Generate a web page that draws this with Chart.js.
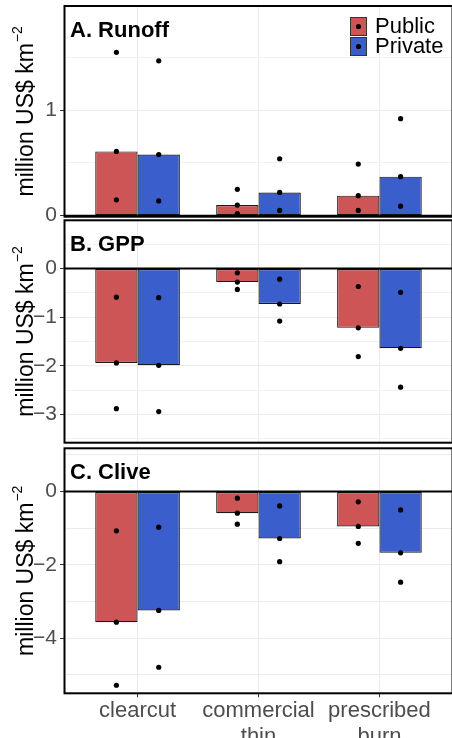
<!DOCTYPE html>
<html>
<head>
<meta charset="utf-8">
<script src="https://cdn.jsdelivr.net/npm/chart.js@4"></script>
<style>
  html, body { margin: 0; padding: 0; background: #fff; overflow: hidden; }
  #wrap { position: relative; width: 452px; height: 738px; overflow: hidden; }
  canvas { position: absolute; left: 0; }
</style>
</head>
<body>
<div id="wrap">
  <canvas id="runoffChart" width="456" height="240" style="top:0px"></canvas>
  <canvas id="gppChart" width="456" height="260" style="top:200px"></canvas>
  <canvas id="cliveChart" width="456" height="308" style="top:430px"></canvas>
</div>
<script>
const categories = ['clearcut', ['commercial', 'thin'], ['prescribed', 'burn']];
const groups = ['Public', 'Private'];
const groupColors = ['#CD5555', '#3A5FCD'];

// medians (bars) and the three individual values (dots) per category
const runoffPublic = [0.61, 0.10, 0.19];
const runoffPrivate = [0.58, 0.22, 0.37];
const runoffPublicPts = [[1.55, 0.61, 0.15], [0.25, 0.10, 0.02], [0.49, 0.19, 0.05]];
const runoffPrivatePts = [[1.47, 0.58, 0.14], [0.54, 0.22, 0.05], [0.92, 0.37, 0.09]];

const gppPublic = [-1.94, -0.28, -1.22];
const gppPrivate = [-1.99, -0.73, -1.64];
const gppPublicPts = [[-0.59, -1.94, -2.88], [-0.09, -0.28, -0.43], [-0.37, -1.22, -1.81]];
const gppPrivatePts = [[-0.60, -1.99, -2.94], [-0.22, -0.73, -1.08], [-0.49, -1.64, -2.44]];

const clivePublic = [-3.56, -0.59, -0.95];
const clivePrivate = [-3.24, -1.28, -1.67];
const clivePublicPts = [[-1.07, -3.56, -5.28], [-0.18, -0.59, -0.89], [-0.28, -0.95, -1.41]];
const clivePrivatePts = [[-0.97, -3.24, -4.79], [-0.39, -1.28, -1.91], [-0.50, -1.67, -2.47]];

// y grid positions and the ones that get a label
const runoffTicks = [0, 0.5, 1, 1.5];
const runoffLabels = [0, 1];
const gppTicks = [-3.5, -3, -2.5, -2, -1.5, -1, -0.5, 0, 0.5];
const gppLabels = [-3, -2, -1, 0];
const cliveTicks = [-5, -4, -3, -2, -1, 0, 1];
const cliveLabels = [-4, -2, 0];

const FONT = '"Liberation Sans", Arial, Helvetica, sans-serif';
Chart.defaults.font.family = FONT;

const dodge = 0.7;

const panelPlugin = {
  id: 'panelDecor',
  afterDatasetsDraw(chart, args, opts) {
    const { ctx, chartArea: a, scales: { y } } = chart;
    ctx.save();
    // zero line
    const y0 = y.getPixelForValue(0);
    ctx.strokeStyle = '#000';
    ctx.lineWidth = 2;
    ctx.beginPath();
    ctx.moveTo(a.left, y0);
    ctx.lineTo(a.right, y0);
    ctx.stroke();
    // panel border
    ctx.strokeRect(a.left - 0.5, a.top, a.right - a.left + 1, a.bottom - a.top);
    // panel title
    ctx.fillStyle = '#000';
    ctx.font = 'bold 22px ' + FONT;
    ctx.textBaseline = 'middle';
    ctx.textAlign = 'left';
    ctx.fillText(opts.title, 70, a.top + 25);

    // y axis title with superscript
    const main = 'million US$ km';
    const sup = '\u22122';
    ctx.font = '23px ' + FONT;
    const w1 = ctx.measureText(main).width;
    ctx.font = '14px ' + FONT;
    const w2 = ctx.measureText(sup).width;
    ctx.translate(33, (a.top + a.bottom) / 2);
    ctx.rotate(-Math.PI / 2);
    ctx.textBaseline = 'alphabetic';
    const start = -(w1 + w2 + 1) / 2;
    ctx.font = '23px ' + FONT;
    ctx.fillText(main, start, 0);
    ctx.font = '14px ' + FONT;
    ctx.fillText(sup, start + w1 + 1, -11);
    ctx.restore();

    if (opts.legend) {
      ctx.save();
      groups.forEach((g, i) => {
        const top = 17 + i * 20;
        ctx.fillStyle = groupColors[i];
        ctx.fillRect(350, top, 17, 19);
        ctx.strokeStyle = '#333';
        ctx.lineWidth = 1;
        ctx.strokeRect(350.5, top + 0.5, 16, 18);
        ctx.fillStyle = '#000';
        ctx.beginPath();
        ctx.arc(358.5, top + 9.5, 2.6, 0, Math.PI * 2);
        ctx.fill();
        ctx.font = '22px ' + FONT;
        ctx.textBaseline = 'middle';
        ctx.fillText(g, 375, top + 10);
      });
      ctx.restore();
    }
  }
};

function fmt(v) {
  return v < 0 ? '\u2212' + Math.abs(v) : String(v);
}

function makePanel(id, title, pub, priv, pubPts, privPts, yMin, yMax, ticks, labels, pad, showX, xHeight, legend) {
  const bars = vals => vals.map((v, i) => ({ x: i + 1, y: v }));
  const dots = (pts, side) => pts.flatMap((vals, i) => vals.map(v => ({ x: i + 1 + side * dodge / 4, y: v })));

  new Chart(document.getElementById(id), {
    type: 'bar',
    data: {
      datasets: [
        { type: 'scatter', data: dots(pubPts, -1), pointRadius: 2.6, backgroundColor: '#000', borderWidth: 0, order: 0 },
        { type: 'scatter', data: dots(privPts, 1), pointRadius: 2.6, backgroundColor: '#000', borderWidth: 0, order: 0 },
        { label: groups[0], data: bars(pub), backgroundColor: groupColors[0], borderColor: '#1a1a1a', borderWidth: 1.2, borderSkipped: false, order: 1 },
        { label: groups[1], data: bars(priv), backgroundColor: groupColors[1], borderColor: '#1a1a1a', borderWidth: 1.2, borderSkipped: false, order: 1 }
      ]
    },
    options: {
      responsive: false,
      animation: false,
      categoryPercentage: dodge,
      barPercentage: 1,
      layout: { padding: { top: pad[0], bottom: pad[1], left: 0, right: 0 } },
      plugins: {
        legend: { display: false },
        tooltip: { enabled: false },
        panelDecor: { title: title, legend: legend }
      },
      scales: {
        x: {
          type: 'linear',
          min: 0.4,
          max: 3.6,
          offset: false,
          afterBuildTicks: s => { s.ticks = [1, 2, 3].map(v => ({ value: v })); },
          afterFit: s => { s.height = xHeight; s.paddingLeft = 0; s.paddingRight = 0; },
          grid: { offset: false, color: '#EBEBEB', lineWidth: 1, drawTicks: showX, tickLength: 4, tickColor: '#333' },
          border: { display: false },
          ticks: {
            display: showX,
            padding: 0,
            autoSkip: false,
            maxRotation: 0,
            minRotation: 0,
            color: '#4D4D4D',
            font: { size: 22 },
            callback: v => categories[v - 1]
          }
        },
        y: {
          min: yMin,
          max: yMax,
          afterBuildTicks: s => { s.ticks = ticks.map(v => ({ value: v })); },
          afterFit: s => { s.width = 65; s.paddingTop = 0; s.paddingBottom = 0; },
          grid: {
            color: c => Number.isInteger(c.tick.value) ? '#EBEBEB' : '#F2F2F2',
            lineWidth: 1,
            tickLength: 5,
            tickColor: c => labels.includes(c.tick.value) ? '#333' : 'rgba(0,0,0,0)'
          },
          border: { display: false },
          ticks: {
            autoSkip: false,
            padding: 3,
            color: '#4D4D4D',
            font: { size: 21 },
            callback: v => labels.includes(v) ? fmt(v) : ''
          }
        }
      }
    },
    plugins: [panelPlugin]
  });
}

makePanel('runoffChart', 'A. Runoff', runoffPublic, runoffPrivate, runoffPublicPts, runoffPrivatePts,
  -0.01, 1.99, runoffTicks, runoffLabels, [6, 23.3], false, 0, true);
makePanel('gppChart', 'B. GPP', gppPublic, gppPrivate, gppPublicPts, gppPrivatePts,
  -3.58, 0.99, gppTicks, gppLabels, [20.3, 17.3], false, 0, false);
makePanel('cliveChart', 'C. Clive', clivePublic, clivePrivate, clivePublicPts, clivePrivatePts,
  -5.5, 1.18, cliveTicks, cliveLabels, [18.3, 0], true, 44.7, false);
</script>
</body>
</html>
